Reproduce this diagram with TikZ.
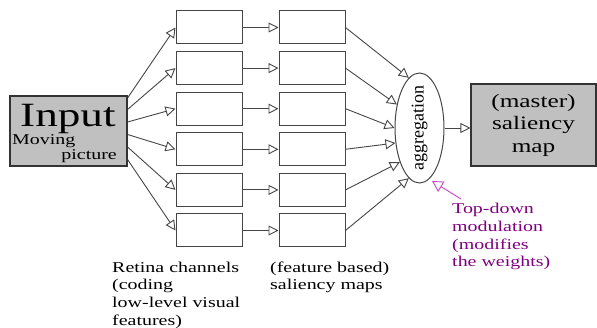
\documentclass[tikz,border=0pt]{standalone}
\usepackage{fontspec}
\setmainfont{Liberation Serif}[FakeStretch=1.33]
\newfontfamily\aggfont{Liberation Serif}
\usepackage{xcolor}
\usetikzlibrary{positioning,arrows.meta,shapes.geometric}
\definecolor{boxgray}{RGB}{192,192,192}
\definecolor{linegray}{RGB}{70,70,70}
\definecolor{tdpurple}{RGB}{128,0,128}
\definecolor{tdmagenta}{RGB}{200,70,200}
\tikzset{
  ch/.style={draw=linegray,line width=1pt,minimum width=66pt,minimum height=33pt,inner sep=0pt},
  gbox/.style={draw=black!80,line width=1.1pt,fill=boxgray,inner sep=0pt},
  lbl/.style={font=\fontsize{15}{17.7}\selectfont,align=left,inner sep=0pt,anchor=north west},
  fl/.style={-{Triangle[open,length=10pt,width=10pt]},draw=linegray,line width=0.9pt},
  tdfl/.style={-{Triangle[open,length=11pt,width=12pt]},draw=tdmagenta,line width=0.9pt},
}
\begin{document}
\begin{tikzpicture}[x=1pt,y=-1pt,node distance=6.6pt]
\useasboundingbox (0,0) rectangle (597,328);
% input
\node[gbox,minimum width=117pt,minimum height=70pt] (inp) at (68.5,131) {};
\node[font=\fontsize{34}{34}\selectfont,inner sep=0pt,anchor=base west] (inpt) at (20,127) {Input};
\node[font=\fontsize{15}{17.7}\selectfont,inner sep=0pt,anchor=base west] (mov) at (12,145) {Moving};
\node[font=\fontsize{15}{17.7}\selectfont,inner sep=0pt,anchor=base east] (pic) at (117,160) {picture};
% retina channels
\node[ch] (r1) at (209,27.5) {};
\node[ch,below=of r1] (r2) {};
\node[ch,below=of r2] (r3) {};
\node[ch,below=of r3] (r4) {};
\node[ch,below=of r4] (r5) {};
\node[ch,below=of r5] (r6) {};
% feature saliency maps
\node[ch,right=36pt of r1] (s1) {};
\node[ch,right=36pt of r2] (s2) {};
\node[ch,right=36pt of r3] (s3) {};
\node[ch,right=36pt of r4] (s4) {};
\node[ch,right=36pt of r5] (s5) {};
\node[ch,right=36pt of r6] (s6) {};
% aggregation and master map
\node[draw=linegray,line width=1pt,ellipse,minimum width=49pt,minimum height=110pt,inner sep=0pt] (agg) at (419.5,128) {};
\node[rotate=90,inner sep=0pt,font=\aggfont\fontsize{18}{18}\selectfont] (aggt) at (agg) {aggregation};
\node[gbox,minimum width=125pt,minimum height=82pt,align=center,font=\fontsize{19}{22.5}\selectfont] (mst) at (533.5,125) {(master)\\saliency\\map};
% labels
\node[lbl] (ret) at (112,261.5) {Retina channels\\(coding\\low-level visual\\features)};
\node[lbl] (fsm) at (270,261.5) {(feature based)\\saliency maps};
\node[lbl,text=tdpurple] (td) at (452,203) {Top-down\\modulation\\(modifies\\the weights)};
\coordinate (tdtip) at (432,181);
% flows
\draw[fl] ([yshift=33pt]inp.east) -- (r1.west);
\draw[fl] ([yshift=21.5pt]inp.east) -- (r2.west);
\draw[fl] ([yshift=9pt]inp.east) -- (r3.west);
\draw[fl] ([yshift=-3.5pt]inp.east) -- (r4.west);
\draw[fl] ([yshift=-16pt]inp.east) -- (r5.west);
\draw[fl] ([yshift=-28.5pt]inp.east) -- (r6.west);
\draw[fl] (r1)--(s1); \draw[fl] (r2)--(s2); \draw[fl] (r3)--(s3);
\draw[fl] (r4)--(s4); \draw[fl] (r5)--(s5); \draw[fl] (r6)--(s6);
\draw[fl] (s1.east) -- (agg.102);
\draw[fl] (s2.east) -- (agg.134);
\draw[fl] (s3.east) -- (agg.180);
\draw[fl] (s4.east) -- (agg.212);
\draw[fl] (s5.east) -- (agg.240);
\draw[fl] (s6.east) -- (agg.258);
\draw[fl] (agg.east) -- (agg.east -| mst.west);
\draw[tdfl] ([shift={(9pt,4pt)}]td.north west) -- (tdtip);
\end{tikzpicture}
\end{document}
